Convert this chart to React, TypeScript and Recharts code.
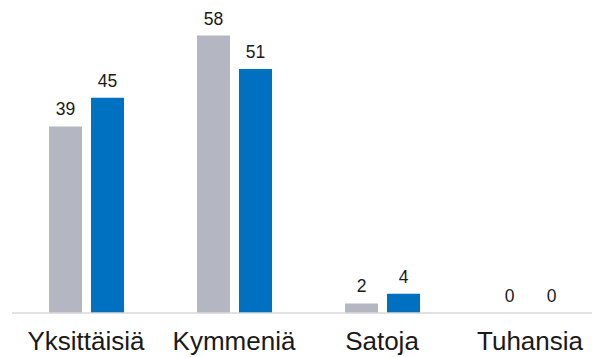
import { BarChart, Bar, XAxis, YAxis, LabelList, Cell } from 'recharts';

const categories = ['Yksittäisiä', 'Kymmeniä', 'Satoja', 'Tuhansia'];
const greyValues = [39, 58, 2, 0];
const blueValues = [45, 51, 4, 0];

const data = categories.map((name, i) => ({
  name,
  grey: greyValues[i],
  blue: blueValues[i],
}));

const FONT = 'Arial, "Liberation Sans", sans-serif';
const GREY = '#b4b6c2';
const BLUE = '#0070c0';

const labelStyle = {
  fill: '#1a1a1a',
  fontSize: 17.5,
  fontFamily: FONT,
};

// zero-valued bars still need a label, so give them a hair of height
const tinyForZero = (value: number) => (value === 0 ? 0.01 : 0);

export default function App() {
  return (
    <div style={{ position: 'absolute', left: 0, top: 0, width: 592, height: 357, overflow: 'hidden', background: '#fff' }}>
      <BarChart
        width={604}
        height={357}
        data={data}
        margin={{ top: 26, right: 0, bottom: 0, left: 12 }}
        barSize={33}
        barGap={9}
      >
        <XAxis
          dataKey="name"
          height={44}
          tickLine={false}
          axisLine={{ stroke: '#d9d9d9', strokeWidth: 1.5 }}
          tickMargin={13}
          tick={{ fill: '#1a1a1a', fontSize: 26, fontFamily: FONT }}
          interval={0}
        />
        <YAxis hide domain={[0, 60]} />
        {/* grey series */}
        <Bar dataKey="grey" fill={GREY} minPointSize={tinyForZero} isAnimationActive={false}>
          {greyValues.map((v, i) => (
            <Cell key={i} fill={v === 0 ? 'transparent' : GREY} />
          ))}
          <LabelList dataKey="grey" position="top" offset={11} style={labelStyle} />
        </Bar>
        {/* blue series */}
        <Bar dataKey="blue" fill={BLUE} minPointSize={tinyForZero} isAnimationActive={false}>
          {blueValues.map((v, i) => (
            <Cell key={i} fill={v === 0 ? 'transparent' : BLUE} />
          ))}
          <LabelList dataKey="blue" position="top" offset={11} style={labelStyle} />
        </Bar>
      </BarChart>
    </div>
  );
}
